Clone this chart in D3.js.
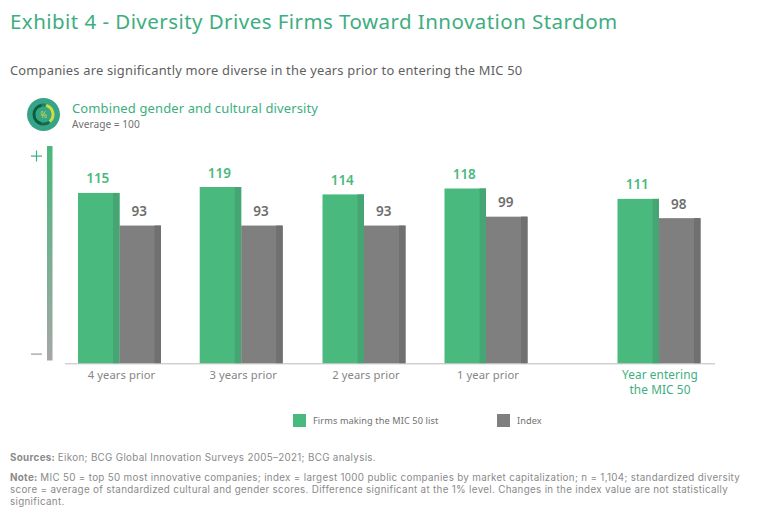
<!DOCTYPE html>
<html><head><meta charset="utf-8">
<script src="https://cdn.jsdelivr.net/npm/d3@7"></script>
<style>html,body{margin:0;padding:0;background:#fff}svg{display:block;font-family:"Noto Sans",sans-serif}</style>
</head><body><svg id="c" width="768" height="520"></svg>
<script>
const categories=["4 years prior","3 years prior","2 years prior","1 year prior","Year entering the MIC 50"];
const firmsValues=[115,119,114,118,111];
const indexValues=[93,93,93,99,98];
const seriesNames=["Firms making the MIC 50 list","Index"];
const GREEN="#4ab97d",GREEN_D="#45a673",GRAY="#7f7f7f",GRAY_D="#707070",TXT="#7a7a7a";
const svg=d3.select("#c");
const text=(x,y,s,size,fill,o={})=>svg.append("text").attr("x",x).attr("y",y).attr("font-size",size).attr("fill",fill)
  .attr("text-anchor",o.anchor||"start").attr("font-weight",o.weight||400).attr("letter-spacing",o.ls||0).text(s);
text(10,29,"Exhibit 4 - Diversity Drives Firms Toward Innovation Stardom",20.5,"#3dae7f",{ls:.45});
text(10,75,"Companies are significantly more diverse in the years prior to entering the MIC 50",12.9,"#5f5f5f",{ls:.2});
// icon
const ic=svg.append("g").attr("transform","translate(43.5,114.5)");
ic.append("circle").attr("r",16.5).attr("fill","#36a487");
const arc=d3.arc();
[[-2.9,-0.2,"#0d5c3e"],[0.3,2.4,"#d3dc3c"],[-0.15,0.2,"#1f7d5c"],[2.5,3.4,"#17694a"]].forEach(([a,b,c])=>
  ic.append("path").attr("d",arc({innerRadius:8,outerRadius:11,startAngle:a,endAngle:b})).attr("fill",c));
ic.append("text").attr("text-anchor","middle").attr("y",3.2).attr("font-size",8).attr("fill","#d3dc3c").text("%");
text(72,113,"Combined gender and cultural diversity",13,"#3dae7f",{ls:.12});
text(72,128,"Average = 100",10.2,"#707070");
// gradient bar
const grad=svg.append("defs").append("linearGradient").attr("id","g").attr("x1",0).attr("x2",0).attr("y1",0).attr("y2",1);
grad.append("stop").attr("offset",0).attr("stop-color","#48b87c");
grad.append("stop").attr("offset",1).attr("stop-color","#a6a6a6");
svg.append("rect").attr("x",47).attr("y",146).attr("width",5.5).attr("height",214.5).attr("fill","url(#g)");
const sign=(y,h)=>{svg.append("rect").attr("x",31).attr("y",y).attr("width",11).attr("height",1.2).attr("fill",h?"#3dae7f":"#9a9a9a");
 if(h)svg.append("rect").attr("x",35.9).attr("y",y-5).attr("width",1.2).attr("height",11).attr("fill","#3dae7f");};
sign(155.5,true);sign(353.5,false);
// scales
const y=d3.scaleLinear().domain([0,119]).range([363.5,187]);
const x=d3.scaleOrdinal().domain(categories).range([119.5,241.2,364,486,659]);
const w=41.5,shade=6.5;
const bars=svg.append("g");
categories.forEach((c,i)=>{
  [[firmsValues[i],-w,GREEN,GREEN_D,"#4ab97d"],[indexValues[i],0,GRAY,GRAY_D,"#6e6e6e"]].forEach(([v,dx,f,d,tc])=>{
    const X=x(c)+dx,Y=y(v),H=y(0)-Y;
    bars.append("rect").attr("x",X).attr("y",Y).attr("width",w).attr("height",H).attr("fill",f);
    bars.append("rect").attr("x",X+w-shade).attr("y",Y).attr("width",shade).attr("height",H).attr("fill",d);
    bars.append("text").attr("x",X+w/2-1).attr("y",Y-9.5).attr("text-anchor","middle").attr("font-size",13.5).attr("font-weight",600).attr("fill",tc).text(v);
  });
});
svg.append("line").attr("x1",65).attr("x2",715).attr("y1",363.8).attr("y2",363.8).attr("stroke","#bdbdbd").attr("stroke-width",1);
const lab=(c,i)=>{
  if(i<4) text(x(c)+2,379,c,11.2,"#858585",{anchor:"middle",ls:.1});
  else{ text(x(c)+1,379,"Year entering",11.8,"#3dae7f",{anchor:"middle",ls:.1});
        text(x(c)+1,394,"the MIC 50",11.8,"#3dae7f",{anchor:"middle",ls:.1}); }
};
categories.forEach(lab);
// legend
const lx=d3.scaleOrdinal().domain(seriesNames).range([293,497]);
seriesNames.forEach((n,i)=>{
  svg.append("rect").attr("x",lx(n)).attr("y",414).attr("width",13).attr("height",13).attr("fill",i?GRAY:GREEN);
  text(lx(n)+20,424,n,9.2,"#707070",{ls:.1});
});
// notes
const noteFill="#8a8a8a";
const rich=(yy,b,s)=>{const t=text(10,yy,"",9.8,noteFill,{ls:.32}).attr("font-family","Inter");
  if(b)t.append("tspan").attr("font-weight",700).text(b+" ");t.append("tspan").text(s);};
rich(461,"Sources:","Eikon; BCG Global Innovation Surveys 2005–2021; BCG analysis.");
rich(481,"Note:","MIC 50 = top 50 most innovative companies; index = largest 1000 public companies by market capitalization; n = 1,104; standardized diversity");
rich(493,"","score = average of standardized cultural and gender scores. Difference significant at the 1% level. Changes in the index value are not statistically");
rich(505,"","significant.");
</script></body></html>
